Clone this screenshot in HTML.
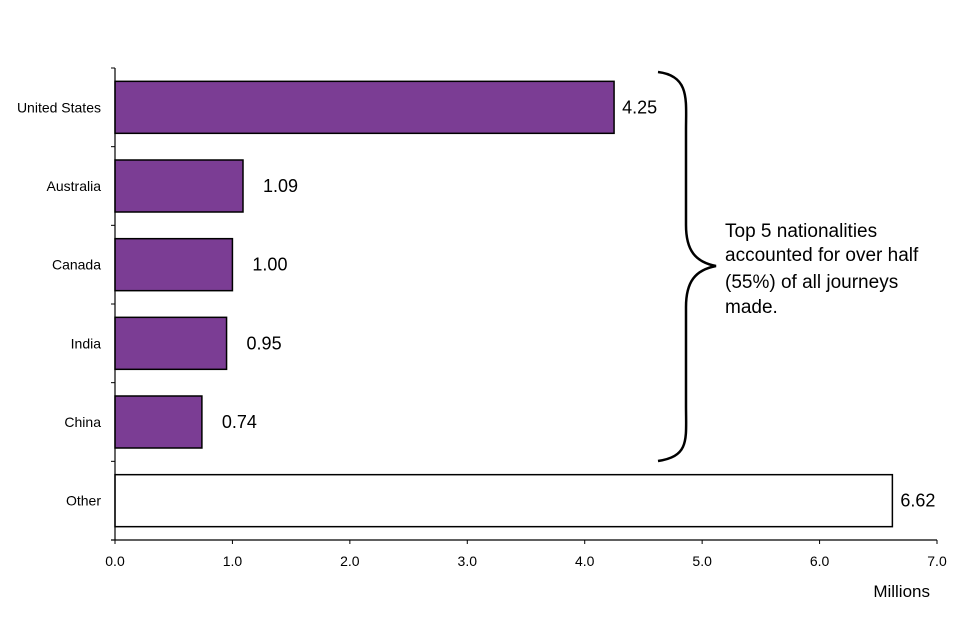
<!DOCTYPE html>
<html><head><meta charset="utf-8"><style>
body{margin:0;background:#fff;}
svg{display:block;font-family:"Liberation Sans",Arial,sans-serif;}
</style></head><body>
<svg id="chart" width="960" height="640" viewBox="0 0 960 640">
<g id="g"></g>
<path d="M658,72 C690,76 686,100 686,130 L686,225 C686,250 695,262 716,266 C695,270 686,282 686,307 L686,405 C686,440 690,456 658,461" fill="none" stroke="#000" stroke-width="2.5"/>
<text font-size="19" fill="#000"><tspan x="725" y="237">Top 5 nationalities</tspan><tspan x="725" y="261">accounted for over half</tspan><tspan x="725" y="288">(55%) of all journeys</tspan><tspan x="725" y="313">made.</tspan></text>
<text x="930" y="597" font-size="17" text-anchor="end">Millions</text>
</svg>
<script>
const categories=["United States","Australia","Canada","India","China","Other"];
const values=[4.25,1.09,1.00,0.95,0.74,6.62];
const valueLabels=["4.25","1.09","1.00","0.95","0.74","6.62"];
const tickValues=[0,1,2,3,4,5,6,7];
const tickLabels=["0.0","1.0","2.0","3.0","4.0","5.0","6.0","7.0"];
(function(){
const NS="http://www.w3.org/2000/svg";
const g=document.getElementById('g');
const x0=115,xScale=(937-115)/7,yTop=68,yBottom=540,band=(yBottom-yTop)/categories.length;
const x=v=>x0+v*xScale;
function mk(t,a){const e=document.createElementNS(NS,t);for(const k in a)e.setAttribute(k,a[k]);g.appendChild(e);return e;}
categories.forEach((c,i)=>{
 const cy=yTop+band*(i+0.5);
 const r=mk('rect',{x:x0,y:cy-26,width:x(values[i])-x0,height:52,fill:c==="Other"?"#fff":"#7b3d94",stroke:"#000","stroke-width":1.5});
 
 
 const l=mk('text',{x:x0-14,y:cy+5,"font-size":14,"text-anchor":"end"});l.textContent=c;
 
 
 const vl=mk('text',{x:x(values[i])+(values[i]>4?8:20),y:cy+6,"font-size":18});vl.textContent=valueLabels[i];
 
 
});
for(let i=0;i<=categories.length;i++){const t=mk('line',{x1:x0-4,x2:x0,y1:yTop+band*i,y2:yTop+band*i,stroke:"#000"});
 
 }
const ya=mk('line',{x1:x0,x2:x0,y1:yTop,y2:yBottom,stroke:"#000","stroke-width":1.2});


const xa=mk('line',{x1:x0-4,x2:x(7),y1:yBottom,y2:yBottom,stroke:"#000","stroke-width":1.2});


tickValues.forEach((v,i)=>{
 const t=mk('line',{x1:x(v),x2:x(v),y1:yBottom,y2:yBottom+4,stroke:"#000"});
 
 
 const l=mk('text',{x:x(v),y:566,"font-size":14,"text-anchor":"middle"});l.textContent=tickLabels[i];
 
 
});
})();
</script>
</body></html>
